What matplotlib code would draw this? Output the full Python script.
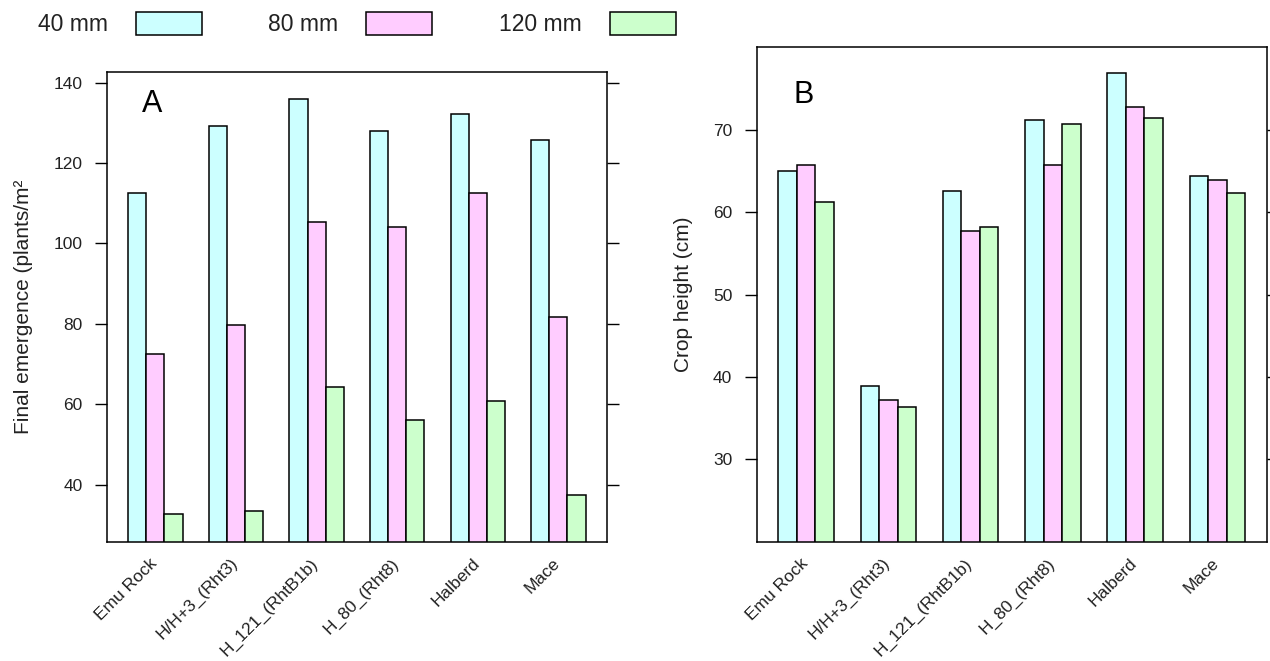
import matplotlib
matplotlib.use("Agg")
import matplotlib.pyplot as plt
import matplotlib.transforms as mtransforms
import numpy as np

plt.rcParams["font.family"] = ["Liberation Sans", "DejaVu Sans"]

cultivars = ["Emu Rock", "H/H+3_(Rht3)", "H_121_(RhtB1b)", "H_80_(Rht8)", "Halberd", "Mace"]
depths = ["40 mm", "80 mm", "120 mm"]
colors = ["#ccffff", "#ffccff", "#ccffcc"]

# final emergence (plants/m2) per sowing depth
emergence_40 = [112.5, 129.2, 135.9, 128.0, 132.1, 125.6]
emergence_80 = [72.4, 79.7, 105.4, 104.1, 112.5, 81.7]
emergence_120 = [32.7, 33.5, 64.4, 56.0, 60.7, 37.4]

# crop height (cm) per sowing depth
height_40 = [65.0, 38.9, 62.6, 71.2, 76.9, 64.4]
height_80 = [65.7, 37.2, 57.7, 65.7, 72.8, 63.9]
height_120 = [61.2, 36.4, 58.2, 70.7, 71.4, 62.3]

TEXT = "#222222"
W = 0.225


def draw_panel(fig, ax, series, ylim, yticks, ylabel, letter, letter_xy):
    x = np.arange(len(cultivars))
    handles = []
    for i, (vals, color, label) in enumerate(zip(series, colors, depths)):
        h = ax.bar(x + (i - 1) * W, vals, width=W, color=color, edgecolor="black",
                   linewidth=1.1, label=label)
        handles.append(h)
    ax.set_xlim(-0.6, len(cultivars) - 0.4)
    ax.set_ylim(*ylim)
    ax.set_yticks(yticks)
    ax.tick_params(axis="y", which="both", direction="out", length=8.6, width=1.0,
                   pad=9, labelsize=12.5, colors="black", labelcolor=TEXT,
                   left=True, right=True, labelright=False)
    ax.set_xticks(x)
    ax.tick_params(axis="x", length=0, pad=10)
    labels = ax.set_xticklabels(cultivars, rotation=45, ha="right", rotation_mode="anchor",
                                fontsize=12.5, color=TEXT)
    # nudge the rotated labels so their ends sit under the group centre
    shift = mtransforms.ScaledTranslation(-6 / 100, 0, fig.dpi_scale_trans)
    for lab in labels:
        lab.set_transform(lab.get_transform() + shift)
    for s in ax.spines.values():
        s.set_linewidth(1.1)
    ax.set_ylabel(ylabel, fontsize=15, color=TEXT)
    ax.text(letter_xy[0], letter_xy[1], letter, transform=ax.transAxes,
            fontsize=22, ha="center", va="center", color="black")
    return handles


fig = plt.figure(figsize=(12.7, 6.61), dpi=100)
ax_a = fig.add_axes([0.0843, 0.1805, 0.3934, 0.711])
ax_b = fig.add_axes([0.5958, 0.1805, 0.4016, 0.7479])

handles = draw_panel(fig, ax_a, [emergence_40, emergence_80, emergence_120], (25.8, 142.7),
                     [40, 60, 80, 100, 120, 140], "Final emergence (plants/m²",
                     "A", (0.09, 0.931))
draw_panel(fig, ax_b, [height_40, height_80, height_120], (20, 80),
           [30, 40, 50, 60, 70], "Crop height (cm)", "B", (0.093, 0.903))
ax_a.yaxis.set_label_coords(-0.148, 0.5)
ax_b.yaxis.set_label_coords(-0.125, 0.5)

fig.legend(handles=handles, labels=depths, loc="upper left",
           bbox_to_anchor=(38 / 1270, 1 - 12 / 661), ncol=3, frameon=False,
           markerfirst=False, fontsize=16.5, handlelength=2.88, handleheight=1.2,
           handletextpad=1.22, columnspacing=2.9, borderpad=0, borderaxespad=0,
           labelcolor=TEXT)

fig.savefig("out.png", dpi=100)
